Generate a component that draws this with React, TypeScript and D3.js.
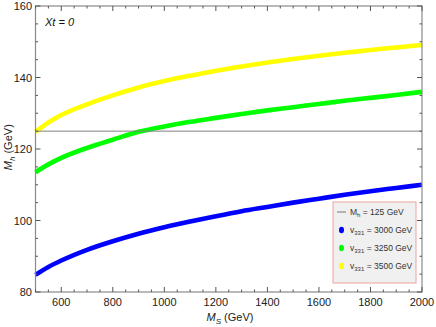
import * as d3 from "d3";
import { useRef, useEffect } from "react";

// x values (M_S in GeV)
const msValues = [500, 550, 600, 700, 800, 900, 1000, 1100, 1200, 1300, 1400, 1500, 1600, 1700, 1800, 1900, 2000];

// M_h for each v331
const mhBlue = [84.8, 87.0, 88.8, 91.8, 94.2, 96.3, 98.1, 99.7, 101.2, 102.6, 103.8, 105.0, 106.1, 107.2, 108.2, 109.1, 110.0];
const mhGreen = [113.5, 115.7, 117.5, 120.3, 122.6, 124.8, 126.3, 127.6, 128.7, 129.8, 130.8, 131.7, 132.6, 133.5, 134.3, 135.1, 136.0];
const mhYellow = [124.8, 127.4, 129.5, 132.5, 135.0, 137.2, 139.0, 140.5, 141.9, 143.1, 144.2, 145.2, 146.1, 146.9, 147.7, 148.4, 149.1];

const seriesColors = ["#0000ff", "#00ff00", "#ffff00"];
const seriesLabels = ["3000", "3250", "3500"];

const xTicks = [600, 800, 1000, 1200, 1400, 1600, 1800, 2000];
const yTicks = [80, 100, 120, 140, 160];

export default function App() {
  const svgRef = useRef<SVGSVGElement>(null);

  useEffect(() => {
    const svg = d3.select(svgRef.current);
    svg.selectAll("*").remove();

    const left = 35.5, right = 422, top = 6, bottom = 292;
    const x = d3.scaleLinear().domain([500, 2000]).range([left, right]);
    const y = d3.scaleLinear().domain([80, 160]).range([bottom, top]);
    const font = "Liberation Sans, Arial, sans-serif";

    // curves
    const line = d3.line<number>().x((d, i) => x(msValues[i])).y(d => y(d)).curve(d3.curveMonotoneX);
    [mhBlue, mhGreen, mhYellow].forEach((s, k) => {
      svg.append("path").attr("d", line(s)).attr("fill", "none").attr("stroke", seriesColors[k]).attr("stroke-width", 4.6);
    });

    // reference line at 125
    svg.append("line").attr("x1", left).attr("x2", right).attr("y1", y(125)).attr("y2", y(125))
      .attr("stroke", "#808080").attr("stroke-width", 1);

    // frame
    svg.append("rect").attr("x", left).attr("y", top).attr("width", right - left).attr("height", bottom - top)
      .attr("fill", "none").attr("stroke", "#8a8a8a").attr("stroke-width", 1.2);

    const tickColor = "#555";
    // x ticks (inside, top & bottom)
    d3.range(500, 2001, 50).forEach(v => {
      const major = v % 200 === 0;
      const len = major ? 5 : 2.5;
      svg.append("line").attr("x1", x(v)).attr("x2", x(v)).attr("y1", bottom).attr("y2", bottom - len).attr("stroke", tickColor);
      svg.append("line").attr("x1", x(v)).attr("x2", x(v)).attr("y1", top).attr("y2", top + len).attr("stroke", tickColor);
    });
    // y ticks (inside, left & right)
    d3.range(80, 161, 5).forEach(v => {
      const major = v % 20 === 0;
      const len = major ? 5 : 2.5;
      svg.append("line").attr("x1", left).attr("x2", left + len).attr("y1", y(v)).attr("y2", y(v)).attr("stroke", tickColor);
      svg.append("line").attr("x1", right).attr("x2", right - len).attr("y1", y(v)).attr("y2", y(v)).attr("stroke", tickColor);
    });

    // tick labels
    svg.selectAll(".xt").data(xTicks).enter().append("text")
      .attr("x", d => x(d)).attr("y", 306).attr("text-anchor", "middle")
      .style("font-family", font).style("font-size", "11px").attr("fill", "#222").text(d => d);
    svg.selectAll(".yt").data(yTicks).enter().append("text")
      .attr("x", 32).attr("y", d => y(d) + 4).attr("text-anchor", "end")
      .style("font-family", font).style("font-size", "11px").attr("fill", "#222").text(d => d);

    // axis labels
    const xl = svg.append("text").attr("x", 230).attr("y", 321).attr("text-anchor", "middle")
      .style("font-family", font).style("font-size", "11px").attr("fill", "#222");
    xl.append("tspan").style("font-style", "italic").text("M");
    xl.append("tspan").style("font-style", "italic").style("font-size", "8px").attr("dy", 3).text("S");
    xl.append("tspan").attr("dy", -3).text(" (GeV)");

    const yl = svg.append("text").attr("transform", `translate(12,${y(120.5)}) rotate(-90)`).attr("text-anchor", "middle")
      .style("font-family", font).style("font-size", "11px").attr("fill", "#222");
    yl.append("tspan").style("font-style", "italic").text("M");
    yl.append("tspan").style("font-style", "italic").style("font-size", "8px").attr("dy", 3).text("h");
    yl.append("tspan").attr("dy", -3).text(" (GeV)");

    // Xt annotation
    svg.append("text").attr("x", 45).attr("y", 26).style("font-family", font).style("font-size", "11px")
      .style("font-style", "italic").attr("fill", "#111").text("Xt = 0");

    // legend
    const lg = svg.append("g");
    lg.append("rect").attr("x", 333).attr("y", 202).attr("width", 83).attr("height", 81)
      .attr("fill", "#f0f0f0").attr("stroke", "#f2a0a0").attr("stroke-width", 1);
    const rows = [212, 230, 248, 266];
    lg.append("line").attr("x1", 337).attr("x2", 346).attr("y1", rows[0]).attr("y2", rows[0]).attr("stroke", "#777");
    const t0 = lg.append("text").attr("x", 350).attr("y", rows[0] + 3).style("font-family", font).style("font-size", "8.5px").attr("fill", "#333");
    t0.append("tspan").text("M");
    t0.append("tspan").style("font-size", "6px").attr("dy", 2).text("h");
    t0.append("tspan").attr("dy", -2).text(" = 125 GeV");
    seriesLabels.forEach((lab, k) => {
      const yy = rows[k + 1];
      lg.append("ellipse").attr("cx", 341.5).attr("cy", yy).attr("rx", 2.5).attr("ry", 3.3).attr("fill", seriesColors[k]);
      const t = lg.append("text").attr("x", 350).attr("y", yy + 3).style("font-family", font).style("font-size", "8.5px").attr("fill", "#333");
      t.append("tspan").text("v");
      t.append("tspan").style("font-size", "6px").attr("dy", 2).text("331");
      t.append("tspan").attr("dy", -2).text(` = ${lab} GeV`);
    });
  }, []);

  return <svg ref={svgRef} width={436} height={327} style={{ position: "absolute", left: 0, top: 0, background: "#fff" }} />;
}
